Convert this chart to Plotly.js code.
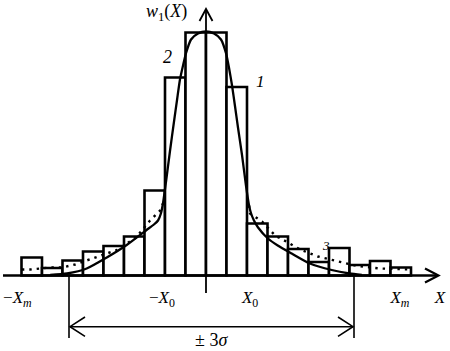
<!DOCTYPE html>
<html><head><meta charset="utf-8">
<script src="https://cdn.plot.ly/plotly-3.0.1.min.js"></script>
<style>html,body{margin:0;padding:0;background:#fff;} #chart{width:450px;height:351px;}</style>
</head><body><div id="chart"></div>
<script>
// Histogram bins (bin index units, width 1) and heights (relative units)
const binCenters = [-8.5, -7.5, -6.5, -5.5, -4.5, -3.5, -2.5, -1.5, -0.5, 0.5, 1.5, 2.5, 3.5, 4.5, 5.5, 6.5, 7.5, 8.5, 9.5];
const binHeights = [18, 7.5, 15, 24, 29.5, 39, 85, 198, 243, 243, 188.5, 52, 39, 26.5, 13.5, 27.5, 10.5, 14.5, 8];

// Curve 1 (density)
const curveX = [-7.6, -6.78, -5.82, -4.84, -3.87, -2.9, -2.54, -2.34, -2.2, -2.1, -1.95, -1.76, -1.56, -1.41, -1.27, -1.12, -0.98, -0.73, -0.39, 0,
                0.39, 0.73, 0.98, 1.12, 1.27, 1.41, 1.56, 1.76, 1.95, 2.1, 2.2, 2.34, 2.54, 3.02, 3.5, 4.18, 5.07, 6.13, 7.0, 7.6];
const curveY = [0.5, 2, 7, 18, 30.5, 45.5, 51, 55, 62, 72, 94, 124, 154, 176, 196, 210, 222, 236, 242, 244,
                242, 236, 222, 208, 190, 170, 148, 120, 90, 70, 62, 55, 48, 37, 30, 22, 12, 5.5, 2, 0.5];

// Dotted line 3
const dotX = [-8.98, -8.59, -7.61, -7.02, -6.39, -5.41, -4.34, -3.41, -2.73, -2.24, -2.1, null,
              2.1, 2.15, 2.73, 3.37, 4.0, 4.59, 5.46, 6.54, 7.37, 8.49, 9.46, 9.95];
const dotY = [6, 6, 8, 8, 11, 18, 25.5, 38, 55, 65, 72, null,
              70, 62, 54, 40, 33, 26, 19, 14, 9.5, 7, 6, 6];

// Axis tick labels
const tickPositions = [-9.2, -2.15, 2.15, 9.46, 11.41];
const tickLabels = ['−<i>X</i><sub><i>m</i></sub>', '−<i>X</i><sub>0</sub>', '<i>X</i><sub>0</sub>', '<i>X</i><sub><i>m</i></sub>', '<i>X</i>'];

// pixel -> data helpers for decorations
const PX0 = 206, PXU = 20.5, BASE = 275.5;
const px = p => (p - PX0) / PXU;
const py = p => BASE - p;

const FONT = 'Liberation Serif, DejaVu Serif, serif';

const traces = [
  {type: 'bar', x: binCenters, y: binHeights, width: 1,
   marker: {color: '#ffffff', line: {color: '#000000', width: 2.6}}, hoverinfo: 'skip'},
  {type: 'scatter', mode: 'lines', x: curveX, y: curveY,
   line: {color: '#000000', width: 2.3, shape: 'spline', smoothing: 0.6}, hoverinfo: 'skip'},
  {type: 'scatter', mode: 'lines', x: dotX, y: dotY, connectgaps: false,
   line: {color: '#000000', width: 2.4, dash: '2.4px,5px'}, hoverinfo: 'skip'}
];

function seg(x0, y0, x1, y1, w) {
  return {type: 'line', xref: 'x', yref: 'y', x0: px(x0), y0: py(y0), x1: px(x1), y1: py(y1),
          line: {color: '#000000', width: w}, layer: 'above'};
}
function chevron(xa, ya, xt, yt, xb, yb, w) {
  return {type: 'path', xref: 'x', yref: 'y',
          path: 'M' + px(xa) + ',' + py(ya) + ' L' + px(xt) + ',' + py(yt) + ' L' + px(xb) + ',' + py(yb),
          line: {color: '#000000', width: w}, layer: 'above'};
}
function label(x, y, text, size) {
  return {x: px(x), y: py(y), xref: 'x', yref: 'y', text: text, showarrow: false,
    font: {family: FONT, size: size, color: '#000000'}, xanchor: 'center', yanchor: 'middle'};
}

const layout = {
  width: 450, height: 351,
  margin: {l: 0, r: 0, t: 0, b: 0},
  paper_bgcolor: '#ffffff', plot_bgcolor: '#ffffff',
  showlegend: false, bargap: 0,
  font: {family: FONT, color: '#000000'},
  xaxis: {range: [px(0), px(450)], showgrid: false, zeroline: false, showline: false, ticks: '',
          tickmode: 'array', tickvals: tickPositions, ticktext: tickLabels,
          tickfont: {family: FONT, size: 17, color: '#000000'},
          anchor: 'free', position: 0.188, fixedrange: true},
  yaxis: {range: [py(351), py(0)], visible: false, fixedrange: true},
  shapes: [
    // x axis with arrow
    seg(3, 275.5, 438, 275.5, 2.3),
    chevron(425, 268.5, 438.5, 275.5, 425, 282.5, 2.2),
    // y axis with arrow
    seg(206, 293, 206, 9, 1.8),
    chevron(199.5, 21, 206, 9, 212.5, 21, 1.8),
    // ±3σ limits and double arrow
    seg(69, 276, 69, 338, 1.6),
    seg(354, 276, 354, 338, 1.6),
    seg(70, 326.7, 353, 326.7, 1.6),
    chevron(85, 317, 70, 326.7, 85, 336.4, 1.6),
    chevron(338, 317, 353, 326.7, 338, 336.4, 1.6)
  ],
  annotations: [
    label(166, 12, '<i>w</i><sub>1</sub>(<i>X</i>)', 18),
    label(167.5, 57, '<i>2</i>', 18),
    label(260, 81, '<i>1</i>', 17),
    label(325.5, 245, '<i>3</i>', 13),
    label(211.7, 340, '± 3<i>σ</i>', 18)
  ]
};

Plotly.newPlot('chart', traces, layout, {staticPlot: true, displayModeBar: false});
</script>
</body></html>
